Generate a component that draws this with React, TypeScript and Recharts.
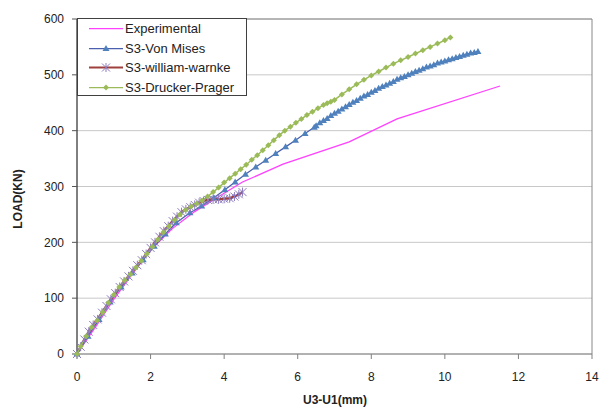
import { LineChart, Line, XAxis, YAxis, CartesianGrid, ReferenceLine, Label } from "recharts";

type Pt = [number, number];

const xTicks = [0, 2, 4, 6, 8, 10, 12, 14];
const yTicks = [0, 100, 200, 300, 400, 500, 600];

const experimental: Pt[] = [
    [0, 0], [0.5, 48], [1, 98], [1.5, 143], [2, 186], [2.6, 225], [3.2, 255], [3.8, 280],
    [4.5, 308], [5.6, 340], [7.4, 380], [8.7, 421], [11.5, 480],
];

const vonMises: Pt[] = [
    [0, 0], [0.3, 32], [0.6, 62], [0.9, 93], [1.2, 120], [1.5, 145], [1.8, 169], [2.1, 193],
    [2.4, 215], [2.7, 235], [3.07, 253], [3.39, 265], [3.72, 280], [4.02, 294], [4.3, 308],
    [4.58, 322], [4.86, 335], [5.13, 347], [5.4, 359], [5.67, 371], [5.94, 383], [6.2, 395],
    [6.45, 406], [6.5, 409], [6.6, 414], [6.7, 418], [6.8, 422], [6.9, 427], [7.0, 431],
    [7.1, 435], [7.2, 439], [7.3, 443], [7.4, 447], [7.5, 451], [7.6, 454], [7.7, 458],
    [7.8, 462], [7.9, 465], [8.0, 469], [8.1, 472], [8.2, 476], [8.3, 479], [8.4, 482],
    [8.5, 485], [8.6, 488], [8.7, 492], [8.8, 495], [8.9, 497], [9.0, 500], [9.1, 503],
    [9.2, 506], [9.3, 508], [9.4, 511], [9.5, 514], [9.6, 516], [9.7, 518], [9.8, 521],
    [9.9, 523], [10.0, 525], [10.1, 527], [10.2, 529], [10.3, 531], [10.4, 533], [10.5, 535],
    [10.6, 537], [10.7, 539], [10.8, 540], [10.9, 542],
];

const williamWarnke: Pt[] = [
    [0, 0], [0.1, 13], [0.2, 26], [0.32, 40], [0.44, 52], [0.56, 62], [0.68, 74], [0.8, 86],
    [0.92, 98], [1.04, 109], [1.16, 120], [1.28, 130], [1.4, 139], [1.52, 149], [1.64, 159],
    [1.76, 168], [1.88, 179], [2.0, 190], [2.12, 200], [2.24, 210], [2.36, 220], [2.48, 229],
    [2.6, 238], [2.72, 246], [2.84, 254], [2.96, 259], [3.08, 263], [3.2, 267], [3.32, 271],
    [3.44, 274], [3.56, 276], [3.7, 277], [3.85, 277], [4.0, 278], [4.15, 279], [4.28, 282],
    [4.4, 286], [4.5, 290],
];

const druckerPrager: Pt[] = [
    [0, 0], [0.1, 14], [0.25, 32], [0.4, 48], [0.55, 60], [0.7, 75], [0.85, 92], [1.0, 106],
    [1.15, 120], [1.3, 132], [1.45, 143], [1.6, 155], [1.75, 167], [1.9, 179], [2.05, 192],
    [2.2, 205], [2.35, 218], [2.5, 229], [2.65, 240], [2.8, 250], [2.95, 258], [3.1, 264],
    [3.25, 269], [3.4, 275], [3.55, 282], [3.7, 290], [3.85, 298], [4.0, 307], [4.15, 315],
    [4.3, 323], [4.45, 331], [4.6, 339], [4.75, 348], [4.9, 356], [5.05, 365], [5.2, 374],
    [5.35, 383], [5.5, 392], [5.65, 400], [5.8, 407], [5.95, 414], [6.1, 421], [6.25, 428],
    [6.4, 434], [6.55, 440], [6.7, 446], [6.8, 449], [6.9, 452], [7.0, 455], [7.2, 465],
    [7.4, 474], [7.6, 483], [7.8, 491], [8.0, 499], [8.2, 506], [8.4, 513], [8.6, 520],
    [8.8, 526], [9.0, 532], [9.2, 538], [9.4, 544], [9.6, 550], [9.8, 556], [10.0, 562],
    [10.15, 567],
];

const FONT = "'Liberation Sans', Arial, sans-serif";
const rows = (pts: Pt[]) => pts.map(([x, y]) => ({ x, y }));

// marker shapes (Excel style)
const triangle = (cx: number, cy: number) => (
    <path d={`M${cx},${cy - 3.5} L${cx + 3.5},${cy + 2.5} L${cx - 3.5},${cy + 2.5} Z`} fill="#4f81bd" />
);
const diamond = (cx: number, cy: number) => (
    <path d={`M${cx},${cy - 3} L${cx + 3},${cy} L${cx},${cy + 3} L${cx - 3},${cy} Z`} fill="#9bbb59" />
);
const star = (cx: number, cy: number) => (
    <g stroke="#8c7bbf" strokeWidth={1}>
        <line x1={cx - 4} y1={cy - 4} x2={cx + 4} y2={cy + 4} />
        <line x1={cx - 4} y1={cy + 4} x2={cx + 4} y2={cy - 4} />
        <line x1={cx} y1={cy - 4.5} x2={cx} y2={cy + 4.5} />
    </g>
);

const dotOf = (shape: (cx: number, cy: number) => JSX.Element) => (p: any) => {
    if (p.cx == null || p.cy == null) return <g key={p.index} />;
    return <g key={p.index}>{shape(p.cx, p.cy)}</g>;
};

const legendItems = [
    { name: "Experimental", color: "#ff40ff", width: 1.25, shape: null },
    { name: "S3-Von Mises", color: "#4a5fad", width: 1.25, shape: triangle },
    { name: "S3-william-warnke", color: "#a0403e", width: 2, shape: star },
    { name: "S3-Drucker-Prager", color: "#9bbb59", width: 1.25, shape: diamond },
];

function ChartLegend() {
    return (
        <div
            style={{
                position: "absolute",
                left: 77,
                top: 18,
                width: 168,
                height: 76,
                border: "1px solid #404040",
                background: "#fff",
                fontFamily: FONT,
                fontSize: 13,
                color: "#222",
            }}
        >
            {legendItems.map((it, i) => (
                <div key={it.name} style={{ position: "absolute", left: 0, top: i * 19.6, height: 19, width: 168 }}>
                    <svg width={36} height={19} style={{ position: "absolute", left: 11, top: 0 }}>
                        <line x1={0} y1={9.5} x2={34} y2={9.5} stroke={it.color} strokeWidth={it.width} />
                        {it.shape ? it.shape(17, 9.5) : null}
                    </svg>
                    <span style={{ position: "absolute", left: 47, top: 2, lineHeight: "15px", whiteSpace: "nowrap" }}>{it.name}</span>
                </div>
            ))}
        </div>
    );
}

export default function App() {
    const tick = { fill: "#222", fontSize: 12, fontFamily: FONT };
    return (
        <div style={{ position: "absolute", left: 0, top: 0, width: 600, height: 408, background: "#fff" }}>
            <LineChart width={600} height={408} margin={{ top: 19, right: 8, left: 0, bottom: 0 }}>
                <CartesianGrid vertical={false} stroke="#c8c8c8" />
                <XAxis
                    type="number"
                    dataKey="x"
                    domain={[0, 14]}
                    ticks={xTicks}
                    height={54}
                    tickSize={5}
                    tickMargin={13}
                    stroke="#808080"
                    tick={tick}
                    allowDuplicatedCategory={false}
                >
                    <Label
                        content={() => (
                            <text x={335} y={404} textAnchor="middle" fontFamily={FONT} fontSize={12} fontWeight="bold" fill="#222">
                                U3-U1(mm)
                            </text>
                        )}
                    />
                </XAxis>
                <YAxis
                    type="number"
                    domain={[0, 600]}
                    ticks={yTicks}
                    width={77}
                    tickSize={5}
                    tickMargin={8}
                    axisLine={{ stroke: "#000" }}
                    tickLine={{ stroke: "#555" }}
                    tick={tick}
                >
                    <Label
                        content={() => (
                            <text
                                x={22}
                                y={199}
                                transform="rotate(-90 22 199)"
                                textAnchor="middle"
                                fontFamily={FONT}
                                fontSize={12}
                                fontWeight="bold"
                                fill="#222"
                            >
                                LOAD(KN)
                            </text>
                        )}
                    />
                </YAxis>
                <ReferenceLine y={600} stroke="#888" />
                <ReferenceLine x={14} stroke="#888" />
                <Line
                    data={rows(experimental)}
                    dataKey="y"
                    type="linear"
                    stroke="#ff40ff"
                    strokeWidth={1.25}
                    dot={false}
                    isAnimationActive={false}
                />
                <Line
                    data={rows(vonMises)}
                    dataKey="y"
                    type="linear"
                    stroke="#4a5fad"
                    strokeWidth={1.25}
                    dot={dotOf(triangle)}
                    activeDot={false}
                    isAnimationActive={false}
                />
                <Line
                    data={rows(williamWarnke)}
                    dataKey="y"
                    type="linear"
                    stroke="#a0403e"
                    strokeWidth={2.5}
                    dot={dotOf(star)}
                    activeDot={false}
                    isAnimationActive={false}
                />
                <Line
                    data={rows(druckerPrager)}
                    dataKey="y"
                    type="linear"
                    stroke="#9bbb59"
                    strokeWidth={1.5}
                    dot={dotOf(diamond)}
                    activeDot={false}
                    isAnimationActive={false}
                />
            </LineChart>
            <ChartLegend />
        </div>
    );
}
